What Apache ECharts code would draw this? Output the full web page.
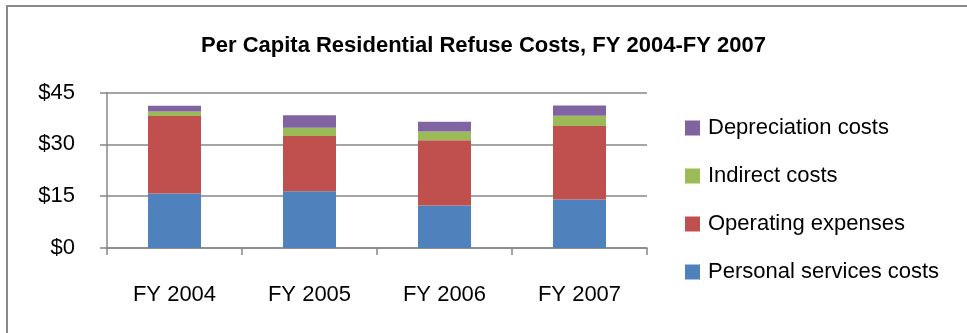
<!DOCTYPE html>
<html>
<head>
<meta charset="utf-8">
<script src="https://cdn.jsdelivr.net/npm/echarts@6/dist/echarts.min.js"></script>
<style>
  html, body { margin: 0; padding: 0; background: #fff; }
  #chart { width: 967px; height: 333px; }
</style>
</head>
<body>
<div id="chart"></div>
<script>
// Per capita residential refuse costs, dollars per resident
const categories = ['FY 2004', 'FY 2005', 'FY 2006', 'FY 2007'];
const personalServices = [15.8, 16.4, 12.3, 14.0];
const operatingExpenses = [22.4, 16.0, 18.9, 21.3];
const indirectCosts = [1.3, 2.4, 2.5, 3.0];
const depreciationCosts = [1.7, 3.6, 2.8, 2.95];
const yTicks = [0, 15, 30, 45];

const FONT = 'Liberation Sans, Arial, sans-serif';
const GRID_GRAY = '#878787';

const chart = echarts.init(document.getElementById('chart'), null, { renderer: 'canvas' });

function barSeries(name, data, color) {
  return {
    name: name,
    type: 'bar',
    stack: 'total',
    data: data,
    barWidth: 53,
    itemStyle: { color: color },
    emphasis: { disabled: true }
  };
}

chart.setOption({
  animation: false,
  backgroundColor: '#ffffff',
  title: {
    text: 'Per Capita Residential Refuse Costs, FY 2004-FY 2007',
    left: 'center',
    top: 30,
    textStyle: { fontFamily: FONT, fontSize: 22, fontWeight: 'bold', color: '#000' }
  },
  legend: {
    orient: 'vertical',
    left: 680,
    top: 112,
    itemWidth: 15,
    itemHeight: 15,
    itemGap: 26,
    icon: 'rect',
    selectedMode: false,
    data: ['Depreciation costs', 'Indirect costs', 'Operating expenses', 'Personal services costs'],
    textStyle: { fontFamily: FONT, fontSize: 22, color: '#000', lineHeight: 22, padding: [0, 0, 0, 3] }
  },
  grid: { left: 107, right: 320, top: 92.5, bottom: 85, containLabel: false },
  xAxis: {
    type: 'category',
    data: categories,
    axisLine: { lineStyle: { color: GRID_GRAY, width: 1.5 } },
    axisTick: { show: true, alignWithLabel: false, length: 7, lineStyle: { color: GRID_GRAY, width: 1.5 } },
    axisLabel: { margin: 36, fontFamily: FONT, fontSize: 22, color: '#000' }
  },
  yAxis: {
    type: 'value',
    min: yTicks[0],
    max: yTicks[yTicks.length - 1],
    interval: yTicks[1] - yTicks[0],
    axisLine: { show: true, lineStyle: { color: GRID_GRAY, width: 1.5 } },
    axisTick: { show: true, length: 7, lineStyle: { color: GRID_GRAY, width: 1.5 } },
    splitLine: { show: true, lineStyle: { color: GRID_GRAY, width: 1.5 } },
    axisLabel: {
      margin: 32,
      fontFamily: FONT,
      fontSize: 22,
      color: '#000',
      formatter: function (v) { return '$' + v; }
    }
  },
  graphic: [{
    type: 'rect',
    shape: { x: 7, y: 6, width: 1000, height: 400 },
    style: { fill: 'none', stroke: '#898989', lineWidth: 2 },
    silent: true
  }],
  series: [
    barSeries('Personal services costs', personalServices, '#4F81BD'),
    barSeries('Operating expenses', operatingExpenses, '#C0504D'),
    barSeries('Indirect costs', indirectCosts, '#9BBB59'),
    barSeries('Depreciation costs', depreciationCosts, '#8064A2')
  ]
});
</script>
</body>
</html>
